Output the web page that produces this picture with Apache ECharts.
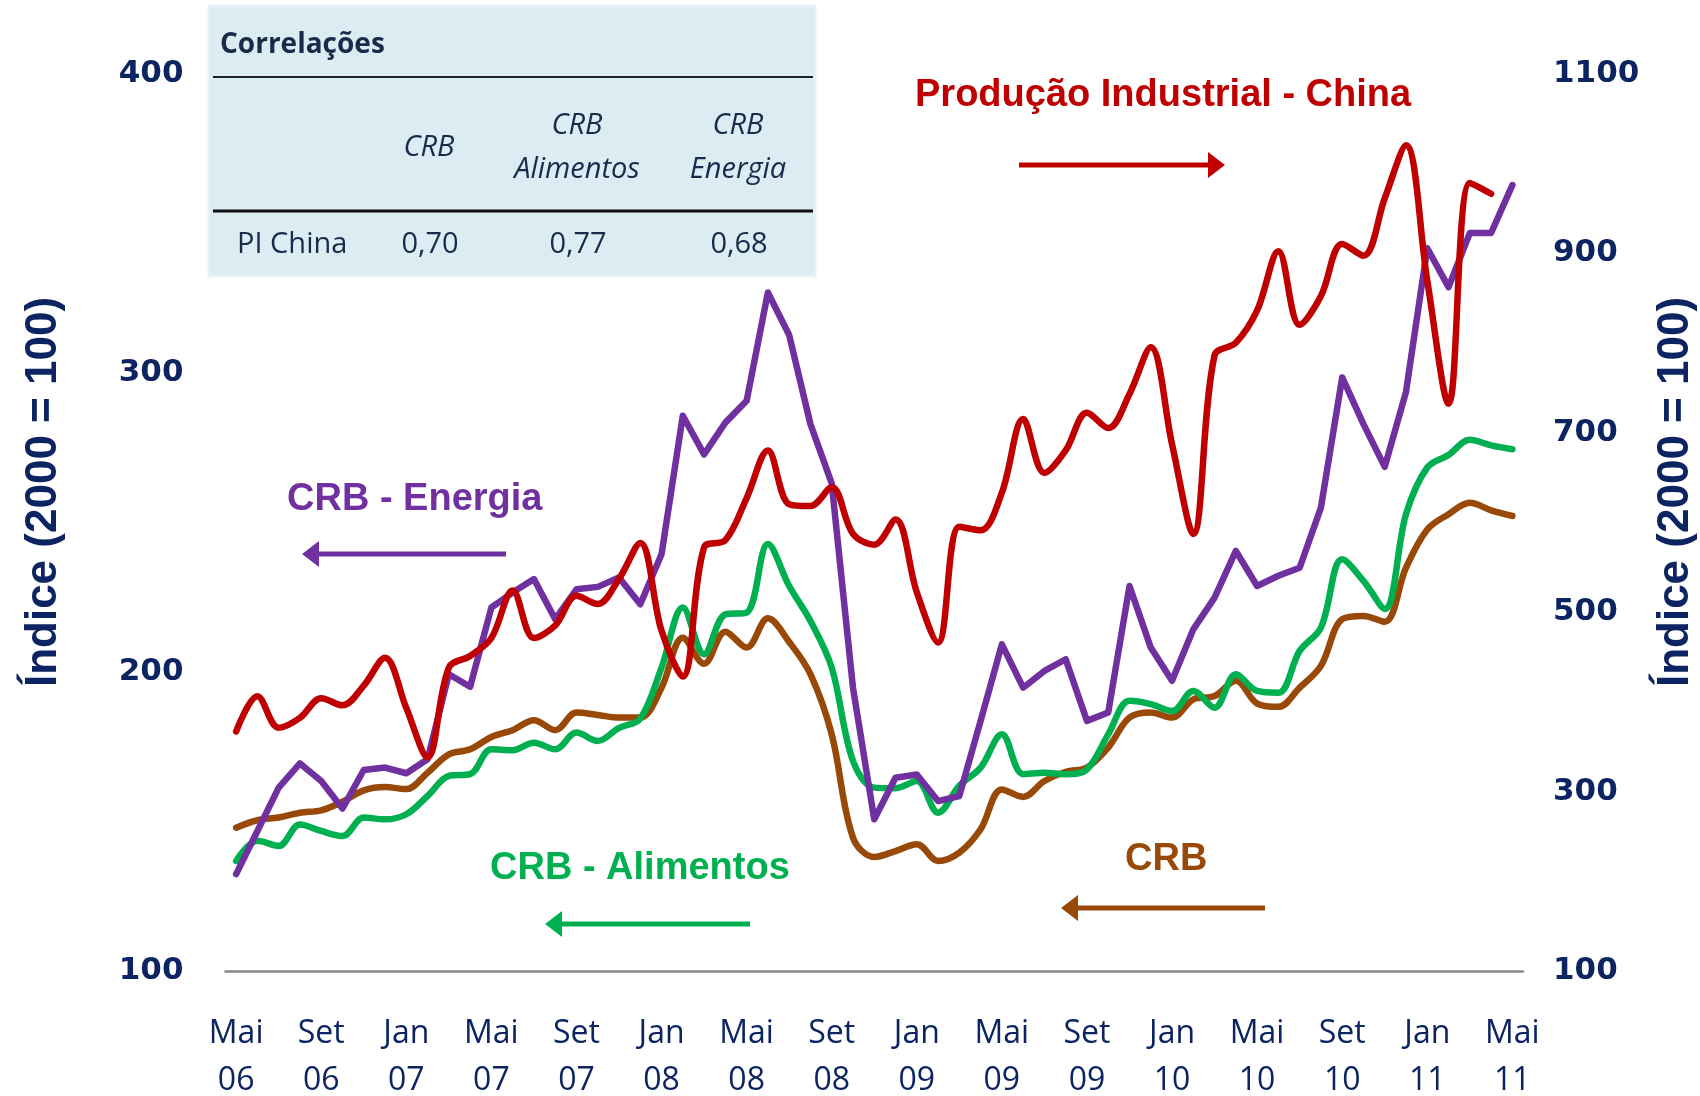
<!DOCTYPE html>
<html>
<head>
<meta charset="utf-8">
<script src="https://cdn.jsdelivr.net/npm/echarts@6/dist/echarts.min.js"></script>
<style>
html, body { margin: 0; padding: 0; background: #fff; }
#main { width: 1700px; height: 1096px; }
</style>
</head>
<body>
<div id="main"></div>
<script>
// meses de Mai/06 a Mai/11
var categorias = [
  'Mai\n06','Jun\n06','Jul\n06','Ago\n06','Set\n06','Out\n06','Nov\n06','Dez\n06',
  'Jan\n07','Fev\n07','Mar\n07','Abr\n07','Mai\n07','Jun\n07','Jul\n07','Ago\n07','Set\n07','Out\n07','Nov\n07','Dez\n07',
  'Jan\n08','Fev\n08','Mar\n08','Abr\n08','Mai\n08','Jun\n08','Jul\n08','Ago\n08','Set\n08','Out\n08','Nov\n08','Dez\n08',
  'Jan\n09','Fev\n09','Mar\n09','Abr\n09','Mai\n09','Jun\n09','Jul\n09','Ago\n09','Set\n09','Out\n09','Nov\n09','Dez\n09',
  'Jan\n10','Fev\n10','Mar\n10','Abr\n10','Mai\n10','Jun\n10','Jul\n10','Ago\n10','Set\n10','Out\n10','Nov\n10','Dez\n10',
  'Jan\n11','Fev\n11','Mar\n11','Abr\n11','Mai\n11'
];

// eixo esquerdo (2000 = 100)
var crb = [
  147.9,150.4,151.3,152.9,153.7,156.6,160.4,161.5,160.8,166.3,172.4,174.1,178.2,180.5,183.8,180.5,
  186.4,185.6,184.7,184.7,194.7,211.4,202.7,213.4,208.1,217.9,210.0,199.2,179.1,144.6,138.1,140.1,
  142.4,136.8,139.6,147.4,160.7,158.2,163.5,166.6,168.0,174.7,184.7,186.4,184.7,190.8,191.9,197.0,
  189.4,188.3,194.7,202.0,217.6,218.7,216.7,234.8,247.6,252.7,256.5,254.0,252.1
];
var crbAlimentos = [
  136.8,143.5,141.8,149.0,146.8,145.1,151.3,150.7,152.4,158.5,165.2,165.8,174.1,173.8,176.3,174.1,
  179.7,176.9,181.3,184.4,201.4,221.5,205.9,219.2,219.8,242.7,228.7,217.0,201.4,170.2,161.3,161.1,
  163.5,152.9,161.9,168.0,179.1,165.8,166.3,165.8,167.4,179.1,190.3,189.2,186.9,193.6,188.0,199.2,
  193.6,193.0,207.0,214.8,237.6,230.4,221.0,252.7,268.3,272.5,277.6,275.7,274.4
];
var crbEnergia = [
  132.4,146.8,161.3,169.4,163.5,154.3,167.2,168.0,166.1,170.8,199.2,195.0,221.5,226.5,231.0,217.6,
  227.6,228.4,231.5,222.6,239.3,285.6,272.7,283.3,290.6,326.8,312.6,282.8,263.0,194.7,150.7,164.6,
  165.7,156.8,158.5,183.6,209.2,194.7,200.3,204.2,183.6,186.4,228.7,208.1,197.0,214.2,224.8,240.4,
  228.7,232.1,234.8,254.9,298.4,282.8,268.5,293.6,341.6,328.6,346.7,346.7,362.7
];
// eixo direito
var piChina = [
  367,406,371,382,404,396,418,449,393,338,438,451,471,524,471,485,
  518,509,537,577,479,428,572,580,627,680,620,618,639,587,575,603,
  522,466,595,591,633,715,655,680,722,705,743,795,687,587,786,800,
  836,902,820,852,910,897,961,1020,869,732,978,966
];

// tabela de correlacoes
var colunasTabela = [['CRB'], ['CRB', 'Alimentos'], ['CRB', 'Energia']];
var correlacoes = ['0,70', '0,77', '0,68'];

var azul = '#0c2461';
var corTabela = '#1b2a4a';
var chart = echarts.init(document.getElementById('main'));

function seta(xIni, xFim, y, cor) {
  // seta horizontal: xFim e a ponta
  var dir = xFim < xIni ? -1 : 1;
  var base = xFim - dir * 17;
  return [
    { type: 'line', shape: { x1: xIni, y1: y, x2: base, y2: y }, style: { stroke: cor, lineWidth: 5 } },
    { type: 'polygon', shape: { points: [[xFim, y], [base, y - 13], [base, y + 13]] }, style: { fill: cor } }
  ];
}

function texto(x, y, t, font, cor, align, extra) {
  var el = { type: 'text', x: x, y: y, style: { text: t, font: font, fill: cor, align: align || 'left', verticalAlign: 'middle' } };
  if (extra) { for (var k in extra) el[k] = extra[k]; }
  return el;
}

var graficos = [];
// tabela
graficos.push({ type: 'rect', shape: { x: 209, y: 6, width: 606, height: 270 }, style: { fill: '#dbecf3', stroke: '#e6f2f7', lineWidth: 3 } });
graficos.push({ type: 'line', shape: { x1: 213, y1: 77, x2: 813, y2: 77 }, style: { stroke: '#222', lineWidth: 2 } });
graficos.push({ type: 'line', shape: { x1: 213, y1: 211, x2: 813, y2: 211 }, style: { stroke: '#111', lineWidth: 3 } });
graficos.push(texto(220, 45, 'Correlações', 'bold 28px "Open Sans"', corTabela));
var centros = [429, 577, 738];
colunasTabela.forEach(function (c, i) {
  if (c.length === 1) {
    graficos.push(texto(centros[i], 148, c[0], 'italic 29px "Open Sans"', corTabela, 'center'));
  } else {
    graficos.push(texto(centros[i], 126, c[0], 'italic 29px "Open Sans"', corTabela, 'center'));
    graficos.push(texto(centros[i], 170, c[1], 'italic 29px "Open Sans"', corTabela, 'center'));
  }
  graficos.push(texto(centros[i] + 1, 245, correlacoes[i], '29px "Open Sans"', corTabela, 'center'));
});
graficos.push(texto(237, 245, 'PI China', '29px "Open Sans"', corTabela));

// rotulos das series
var fonteRot = 'bold 38px "Liberation Sans", Arial, sans-serif';
graficos.push(texto(915, 96, 'Produção Industrial - China', fonteRot, '#c00000'));
graficos.push(texto(287, 500, 'CRB - Energia', fonteRot, '#7030a0'));
graficos.push(texto(490, 869, 'CRB - Alimentos', fonteRot, '#00b050'));
graficos.push(texto(1125, 860, 'CRB', fonteRot, '#984807'));
graficos = graficos.concat(seta(1019, 1225, 165, '#c00000'));
graficos = graficos.concat(seta(506, 302, 554, '#7030a0'));
graficos = graficos.concat(seta(750, 545, 924, '#00b050'));
graficos = graficos.concat(seta(1265, 1061, 908, '#984807'));

// nomes dos eixos
var fonteEixo = 'bold 44px "Liberation Sans", Arial, sans-serif';
graficos.push(texto(44, 492, 'Índice (2000 = 100)', fonteEixo, azul, 'center', { rotation: Math.PI / 2 }));
graficos.push(texto(1676, 492, 'Índice (2000 = 100)', fonteEixo, azul, 'center', { rotation: Math.PI / 2 }));

var rotuloY = {
  color: azul, fontFamily: 'DejaVu Sans', fontWeight: 'bold', fontSize: 31,
  padding: [7, 0, 0, 0],
  formatter: function (v) { return String(v); }
};

var option = {
  backgroundColor: '#fff',
  animation: false,
  grid: { left: 225.5, right: 177, top: 73.5, bottom: 125, outerBoundsMode: 'none' },
  xAxis: {
    type: 'category',
    data: categorias,
    boundaryGap: true,
    axisLine: { show: true, lineStyle: { color: '#8a8a8a', width: 2.5 } },
    axisTick: { show: false },
    splitLine: { show: false },
    axisLabel: {
      interval: 3, margin: 39, lineHeight: 47,
      color: azul, fontFamily: 'Open Sans', fontSize: 32
    }
  },
  yAxis: [
    {
      type: 'value', min: 100, max: 400, interval: 100,
      axisLine: { show: false }, axisTick: { show: false }, splitLine: { show: false },
      axisLabel: Object.assign({ margin: 42 }, rotuloY)
    },
    {
      type: 'value', min: 100, max: 1100, interval: 200, position: 'right',
      axisLine: { show: false }, axisTick: { show: false }, splitLine: { show: false },
      axisLabel: Object.assign({ margin: 30 }, rotuloY)
    }
  ],
  series: [
    { name: 'CRB', type: 'line', data: crb, smooth: 0.35, symbol: 'none',
      lineStyle: { color: '#984807', width: 6.5, cap: 'round', join: 'round' } },
    { name: 'CRB - Alimentos', type: 'line', data: crbAlimentos, smooth: 0.35, symbol: 'none',
      lineStyle: { color: '#00b050', width: 6.5, cap: 'round', join: 'round' } },
    { name: 'CRB - Energia', type: 'line', data: crbEnergia, symbol: 'none',
      lineStyle: { color: '#7030a0', width: 6.5, cap: 'round', join: 'round' } },
    { name: 'Produção Industrial - China', type: 'line', yAxisIndex: 1, data: piChina, smooth: 0.35, symbol: 'none',
      lineStyle: { color: '#c00000', width: 6.5, cap: 'round', join: 'round' } }
  ],
  graphic: graficos
};
chart.setOption(option);
</script>
</body>
</html>
